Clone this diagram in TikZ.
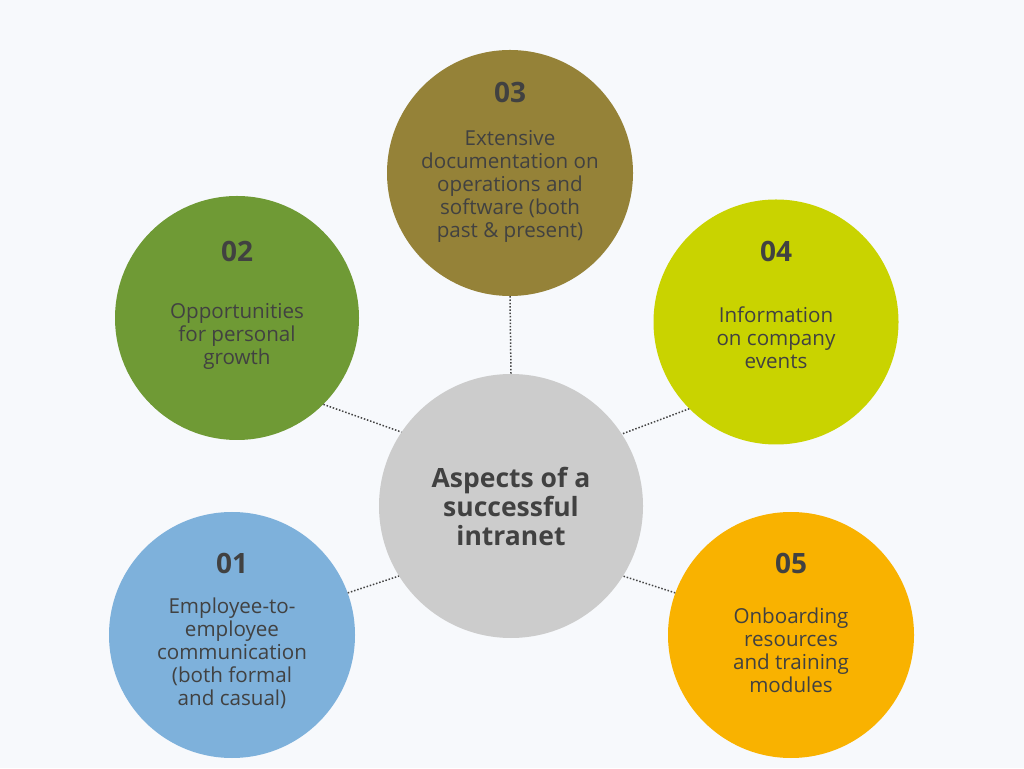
\documentclass[tikz,border=0pt]{standalone}
\usepackage{fontspec}
\setmainfont{Open Sans}
\definecolor{bg}{HTML}{F7F9FC}
\definecolor{cgreen}{HTML}{6F9A35}
\definecolor{colive}{HTML}{958238}
\definecolor{cyellow}{HTML}{C9D300}
\definecolor{cblue}{HTML}{7EB1DB}
\definecolor{corange}{HTML}{F9B200}
\definecolor{cgray}{HTML}{CCCCCC}
\definecolor{txt}{HTML}{414141}
\definecolor{dots}{HTML}{444444}
\begin{document}
\begin{tikzpicture}[x=1pt,y=1pt,
  disc/.style={circle,inner sep=0pt,minimum size=#1},
  numlabel/.style={text=txt,font=\fontsize{28}{30}\selectfont\bfseries,anchor=center},
  bodylabel/.style={text=txt,font=\fontsize{20.6}{23}\selectfont,align=center,anchor=center},
  link/.style={draw=dots,line width=1.5pt,dash pattern=on 1.5pt off 1.8pt}]
\fill[bg] (0,0) rectangle (1024,768);
\useasboundingbox (0,0) rectangle (1024,768);
% circles
\node[disc=264pt,fill=cgray] (c) at (511,262) {};
\node[disc=246pt,fill=colive] (d3) at (510,595) {};
\node[disc=244pt,fill=cgreen] (d2) at (237,450) {};
\node[disc=245pt,fill=cyellow] (d4) at (776,446) {};
\node[disc=246pt,fill=cblue] (d1) at (232,133) {};
\node[disc=246pt,fill=corange] (d5) at (791,133) {};
% connectors
\draw[link] (d3.south) -- (c.north);
\draw[link] (d2.-45) -- (c.146.7);
\draw[link] (d4.225) -- (c.33.3);
\draw[link] (d1.20) -- (c.212.6);
\draw[link] (d5.160) -- (c.-32.6);
% center text
\node[text=txt,font=\fontsize{26.5}{29}\selectfont\bfseries,align=center] (ct) at (511,262) {Aspects of a\\successful\\intranet};
% numbers
\node[numlabel] (n3) at (510,676) {03};
\node[numlabel] (n2) at (237,517) {02};
\node[numlabel] (n4) at (776,517) {04};
\node[numlabel] (n1) at (232,205) {01};
\node[numlabel] (n5) at (791,205) {05};
% texts
\node[bodylabel] (t3) at (510,582) {Extensive\\documentation on\\operations and\\software (both\\past \& present)};
\node[bodylabel] (t2) at (237,432) {Opportunities\\for personal\\growth};
\node[bodylabel] (t4) at (776,430) {Information\\on company\\events};
\node[bodylabel] (t1) at (232,115) {Employee-to-\\employee\\communication\\(both formal\\and casual)};
\node[bodylabel] (t5) at (791,118) {Onboarding\\resources\\and training\\modules};
\end{tikzpicture}
\end{document}
